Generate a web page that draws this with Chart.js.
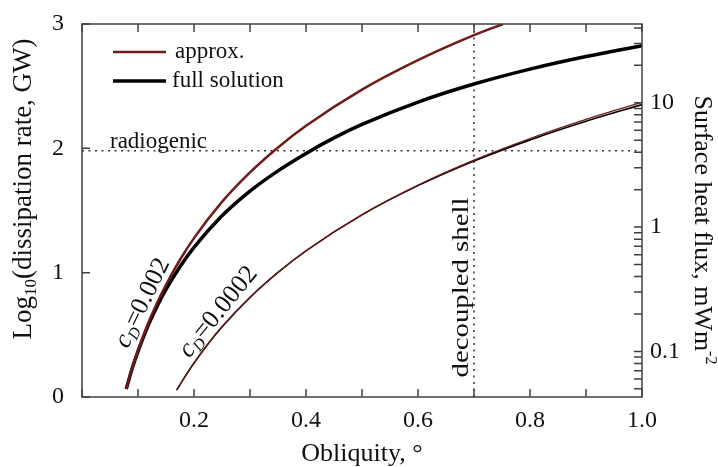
<!DOCTYPE html>
<html>
<head>
<meta charset="utf-8">
<title>Dissipation rate vs obliquity</title>
<script src="https://cdn.jsdelivr.net/npm/chart.js@4.4.1/dist/chart.umd.min.js"></script>
<style>
  html, body { margin: 0; padding: 0; background: #fff; }
  #wrap { width: 718px; height: 467px; }
</style>
</head>
<body>
<div id="wrap"><canvas id="chart"></canvas></div>
<script>
// obliquity (deg) and log10 dissipation (GW)
const obliqApproxHigh = [0.079, 0.09, 0.10, 0.11, 0.12, 0.135, 0.15, 0.175, 0.20, 0.25, 0.30, 0.35, 0.40, 0.50, 0.60, 0.70, 0.752];
const approxHigh      = [0.065, 0.238, 0.375, 0.499, 0.613, 0.766, 0.903, 1.104, 1.278, 1.569, 1.806, 2.007, 2.181, 2.472, 2.709, 2.910, 3.00];

const obliqFullHigh = [0.079, 0.09, 0.10, 0.11, 0.12, 0.135, 0.15, 0.175, 0.20, 0.25, 0.30, 0.35, 0.40, 0.45, 0.50, 0.60, 0.70, 0.80, 0.90, 1.00];
const fullHigh      = [0.065, 0.235, 0.367, 0.486, 0.594, 0.738, 0.865, 1.048, 1.203, 1.457, 1.656, 1.819, 1.959, 2.084, 2.192, 2.372, 2.517, 2.637, 2.738, 2.826];

const obliqLow  = [0.169, 0.18, 0.20, 0.225, 0.25, 0.30, 0.35, 0.40, 0.50, 0.60, 0.70, 0.80, 0.90, 1.00];
const approxLow = [0.055, 0.136, 0.273, 0.427, 0.564, 0.801, 1.002, 1.176, 1.467, 1.704, 1.905, 2.079, 2.233, 2.37];
const fullLow   = [0.055, 0.136, 0.273, 0.427, 0.564, 0.801, 1.002, 1.176, 1.465, 1.700, 1.898, 2.068, 2.218, 2.352];

const radiogenicLevel = 1.98;
const decoupledObliq = 0.70;

const legendLabels = ['approx.', 'full solution'];

// right axis: surface heat flux, mW m^-2 (log)
const fluxMin = 0.043;
const fluxMax = 43;
const fluxTicks = [0.05, 0.06, 0.07, 0.08, 0.09, 0.1, 0.2, 0.3, 0.4, 0.5, 0.6, 0.7, 0.8, 0.9,
                   1, 2, 3, 4, 5, 6, 7, 8, 9, 10, 20, 30, 40];
const fluxLabels = [0.1, 1, 10];

const serif = '"Liberation Serif", "Times New Roman", serif';
const red = '#701a1a';
const axisGrey = '#404040';

function pts(xs, ys) {
  return xs.map((x, i) => ({ x: x, y: ys[i] }));
}

// draw a row of text runs (for sub/superscripts) along a rotated baseline
function drawRuns(ctx, runs, px, py, angle, align, stretch) {
  ctx.save();
  ctx.translate(px, py);
  ctx.rotate(angle);
  if (stretch) ctx.scale(stretch, 1);
  ctx.textAlign = 'left';
  ctx.textBaseline = 'alphabetic';
  let total = 0;
  runs.forEach(r => { ctx.font = r.font; total += ctx.measureText(r.text).width; });
  let cx = align === 'center' ? -total / 2 : 0;
  runs.forEach(r => {
    ctx.font = r.font;
    ctx.fillText(r.text, cx, r.dy || 0);
    cx += ctx.measureText(r.text).width;
  });
  ctx.restore();
}

// vertical scales: no extra top/bottom padding, fixed width
function fixVertical(width) {
  return s => {
    s.width = width;
    s.paddingTop = 0;
    s.paddingBottom = 0;
  };
}

const decorations = {
  id: 'decorations',
  afterDatasetsDraw(chart) {
    const ctx = chart.ctx;
    const a = chart.chartArea;
    const xs = chart.scales.x, ys = chart.scales.y, ys2 = chart.scales.y2;
    ctx.save();

    // frame + inward ticks
    ctx.strokeStyle = axisGrey;
    ctx.lineWidth = 1.5;
    ctx.strokeRect(a.left, a.top, a.right - a.left, a.bottom - a.top);
    ctx.beginPath();
    xs.ticks.forEach(t => {
      const px = xs.getPixelForValue(t.value);
      ctx.moveTo(px, a.bottom); ctx.lineTo(px, a.bottom - 8);
      ctx.moveTo(px, a.top); ctx.lineTo(px, a.top + 8);
    });
    ys.ticks.forEach(t => {
      const py = ys.getPixelForValue(t.value);
      ctx.moveTo(a.left, py); ctx.lineTo(a.left + 8, py);
    });
    ys2.ticks.forEach(t => {
      const py = ys2.getPixelForValue(t.value);
      ctx.moveTo(a.right, py); ctx.lineTo(a.right - 8, py);
    });
    ctx.stroke();

    // legend
    const ds = chart.data.datasets;
    const legendRows = [
      { label: legendLabels[0], color: ds[0].borderColor, width: 2.5, y: a.top + 28, tx: a.left + 93 },
      { label: legendLabels[1], color: ds[2].borderColor, width: 3.5, y: a.top + 57, tx: a.left + 90 }
    ];
    legendRows.forEach(r => {
      ctx.strokeStyle = r.color;
      ctx.lineWidth = r.width;
      ctx.beginPath();
      ctx.moveTo(a.left + 31, r.y);
      ctx.lineTo(a.left + 84, r.y);
      ctx.stroke();
      ctx.fillStyle = '#111';
      ctx.font = '23px ' + serif;
      ctx.textAlign = 'left';
      ctx.textBaseline = 'middle';
      ctx.fillText(r.label, r.tx, r.y);
    });

    ctx.fillStyle = '#111';
    // reference line labels
    drawRuns(ctx, [{ text: 'radiogenic', font: '23px ' + serif }],
      xs.getPixelForValue(0.05), ys.getPixelForValue(2.0), 0, 'left');
    drawRuns(ctx, [{ text: 'decoupled shell', font: '24px ' + serif }],
      xs.getPixelForValue(0.689), ys.getPixelForValue(0.157), -Math.PI / 2, 'left', 1.2);

    // drag coefficient labels
    const cdRuns = val => [
      { text: 'c', font: 'italic 26px ' + serif },
      { text: 'D', font: 'italic 16px ' + serif, dy: 4 },
      { text: '=' + val, font: '26px ' + serif }
    ];
    drawRuns(ctx, cdRuns('0.002'), xs.getPixelForValue(0.1195), ys.getPixelForValue(0.731), -64 * Math.PI / 180, 'center');
    drawRuns(ctx, cdRuns('0.0002'), xs.getPixelForValue(0.253), ys.getPixelForValue(0.649), -51 * Math.PI / 180, 'center');

    // vertical axis titles
    drawRuns(ctx, [
      { text: 'Log', font: '27px ' + serif },
      { text: '10', font: '17px ' + serif, dy: 5 },
      { text: '(dissipation rate, GW)', font: '27px ' + serif }
    ], 31, 189, -Math.PI / 2, 'center');
    drawRuns(ctx, [
      { text: 'Surface heat flux, mWm', font: '26px ' + serif },
      { text: '-2', font: '16px ' + serif, dy: -11 }
    ], 695, 230, Math.PI / 2, 'center');

    ctx.restore();
  }
};

new Chart(document.getElementById('chart'), {
  type: 'line',
  data: {
    datasets: [
      { data: pts(obliqApproxHigh, approxHigh), borderColor: red, borderWidth: 2.5 },
      { data: pts(obliqLow, approxLow), borderColor: red, borderWidth: 1.3 },
      { data: pts(obliqFullHigh, fullHigh), borderColor: '#000', borderWidth: 3.5 },
      { data: pts(obliqLow, fullLow), borderColor: '#000', borderWidth: 1.6 },
      { data: [{ x: 0, y: radiogenicLevel }, { x: 1, y: radiogenicLevel }],
        borderColor: '#333', borderWidth: 1.5, borderDash: [2, 4.5], cubicInterpolationMode: 'default', tension: 0 },
      { data: [{ x: decoupledObliq, y: 0 }, { x: decoupledObliq, y: 3 }],
        borderColor: '#333', borderWidth: 1.5, borderDash: [2, 4.5], cubicInterpolationMode: 'default', tension: 0 }
    ]
  },
  options: {
    responsive: true,
    maintainAspectRatio: false,
    animation: false,
    layout: { padding: { top: 24, left: 0, right: 0, bottom: 0 } },
    elements: {
      point: { radius: 0 },
      line: { cubicInterpolationMode: 'monotone', fill: false }
    },
    plugins: {
      legend: { display: false },
      tooltip: { enabled: false }
    },
    scales: {
      x: {
        type: 'linear',
        min: 0,
        max: 1,
        grid: { display: false, drawTicks: false },
        border: { display: false },
        ticks: {
          stepSize: 0.1,
          autoSkip: false,
          maxRotation: 0,
          padding: 9,
          color: '#111',
          font: { family: serif, size: 24 },
          callback: v => {
            const r = Math.round(v * 10);
            return (r > 0 && r % 2 === 0) ? (r / 10).toFixed(1) : '';
          }
        },
        title: {
          display: true,
          text: 'Obliquity, \u00b0',
          color: '#111',
          font: { family: serif, size: 26, lineHeight: 1.0 },
          padding: { top: 0, bottom: 0 }
        },
        afterFit: s => { s.height = 70; }
      },
      y: {
        type: 'linear',
        position: 'left',
        min: 0,
        max: 3,
        grid: { display: false, drawTicks: false },
        border: { display: false },
        ticks: {
          stepSize: 1,
          padding: 18,
          color: '#111',
          font: { family: serif, size: 24 }
        },
        afterFit: fixVertical(82)
      },
      y2: {
        type: 'logarithmic',
        position: 'right',
        min: fluxMin,
        max: fluxMax,
        grid: { display: false, drawTicks: false },
        border: { display: false },
        afterBuildTicks: s => {
          s.ticks = fluxTicks.map(v => ({ value: v }));
        },
        ticks: {
          autoSkip: false,
          padding: 8,
          color: '#111',
          font: { family: serif, size: 24 },
          callback: v => fluxLabels.includes(v) ? String(v) : ''
        },
        afterFit: fixVertical(76)
      }
    }
  },
  plugins: [decorations]
});
</script>
</body>
</html>
